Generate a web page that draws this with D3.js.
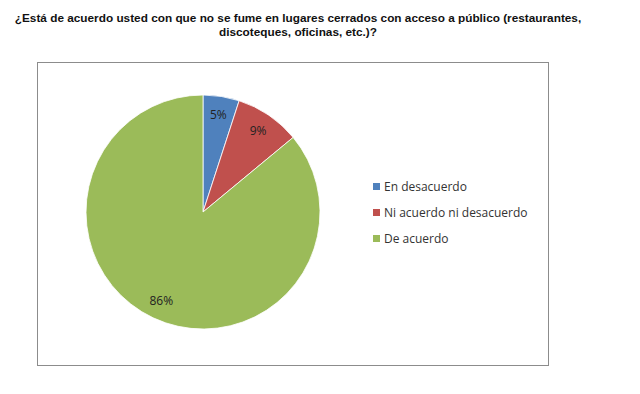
<!DOCTYPE html>
<html><head><meta charset="utf-8">
<script src="https://cdn.jsdelivr.net/npm/d3@7"></script>
<style>body{margin:0;background:#fff}svg{display:block}</style>
</head><body>
<script>
const categories = ["En desacuerdo", "Ni acuerdo ni desacuerdo", "De acuerdo"];
const values = [5, 9, 86];
const labels = ["5%", "9%", "86%"];
const colors = ["#4F81BD", "#C0504D", "#9BBB59"];
const titleLines = ["¿Está de acuerdo usted con que no se fume en lugares cerrados con acceso a público (restaurantes,", "discoteques, oficinas, etc.)?"];

const W = 640, H = 394;
const svg = d3.select("body").append("svg").attr("width", W).attr("height", H);

svg.append("g").selectAll("text").data(titleLines).join("text")
  .attr("x", 298).attr("y", (d,i) => 22 + i*14)
  .attr("text-anchor", "middle")
  .attr("font-family", "Liberation Sans, Arial, sans-serif")
  .attr("font-size", 11.8).attr("font-weight", "bold").attr("fill", "#111")
  .text(d => d);

svg.append("rect").attr("x", 37.5).attr("y", 62.5).attr("width", 511).attr("height", 303)
  .attr("fill", "#fff").attr("stroke", "#8c8c8c").attr("stroke-width", 1);

const cx = 203, cy = 212, R = 117;
const pie = d3.pie().sort(null).value(d => d)(values);
const arc = d3.arc().innerRadius(0).outerRadius(R);
const labelArc = d3.arc().innerRadius(98).outerRadius(98);
const g = svg.append("g").attr("transform", `translate(${cx},${cy})`);
g.selectAll("path").data(pie).join("path")
  .attr("d", arc).attr("fill", (d,i) => colors[i])
  .attr("stroke", "#fff").attr("stroke-width", 0.8);
g.selectAll("text").data(pie).join("text")
  .attr("transform", d => `translate(${labelArc.centroid(d)})`)
  .attr("text-anchor", "middle").attr("dy", "0.35em")
  .attr("font-family", "Open Sans, Liberation Sans, sans-serif")
  .attr("font-size", 12).attr("fill", "#222")
  .text((d,i) => labels[i]);

const leg = svg.append("g").attr("transform", "translate(373,187)");
const li = leg.selectAll("g").data(categories).join("g")
  .attr("transform", (d,i) => `translate(0,${i*26})`);
li.append("rect").attr("x", 0).attr("y", -4).attr("width", 7).attr("height", 7)
  .attr("fill", (d,i) => colors[i]);
li.append("text").attr("x", 11).attr("y", 0).attr("dy", "0.35em")
  .attr("font-family", "Open Sans, Liberation Sans, sans-serif")
  .attr("font-size", 12).attr("fill", "#333").text(d => d);
</script>
</body></html>
